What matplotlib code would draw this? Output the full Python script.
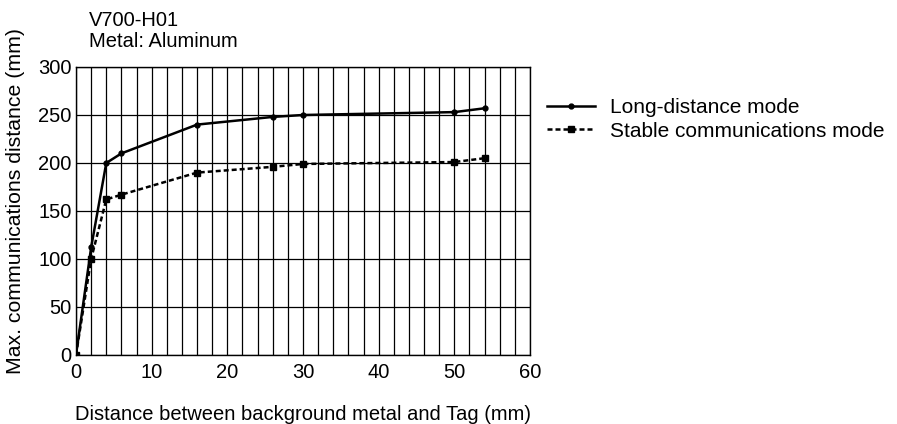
import numpy as np
import matplotlib.pyplot as plt

plt.rcParams['font.family'] = ['Liberation Sans', 'DejaVu Sans']

# distance between background metal and tag (mm)
dist = [0, 2, 4, 6, 16, 26, 30, 50, 54]
long_mode = [0, 112, 200, 210, 240, 248, 250, 253, 257]
stable_mode = [0, 100, 162, 167, 190, 196, 199, 201, 205]

fs = 14.5

fig = plt.figure(figsize=(8.97, 4.24), dpi=100)
ax = fig.add_axes([76 / 897, 1 - 355 / 424, (530 - 76) / 897, (355 - 67) / 424])

ax.plot(dist, long_mode, color='black', lw=1.8, marker='o', ms=3.5,
        label='Long-distance mode')
ax.plot(dist, stable_mode, color='black', lw=1.8, ls=(0, (2, 1.2)), marker='s', ms=4,
        label='Stable communications mode')

ax.set_xlim(0, 60)
ax.set_ylim(0, 300)
ax.set_xticks(np.arange(0, 61, 10))
ax.set_yticks(np.arange(0, 301, 50))
ax.set_xticks(np.arange(0, 61, 2), minor=True)
ax.grid(True, which='major', color='black', lw=0.9)
ax.grid(True, which='minor', axis='x', color='black', lw=0.9)
ax.tick_params(axis='x', which='both', length=0, labelsize=fs, pad=6)
ax.tick_params(axis='y', which='both', length=0, labelsize=fs, pad=3)
for s in ax.spines.values():
    s.set_linewidth(1.0)

ax.set_xlabel('Distance between background metal and Tag (mm)', fontsize=fs, labelpad=16)
ax.set_ylabel('Max. communications distance (mm)', fontsize=15.3)
ax.yaxis.set_label_coords(-0.112, 0.535)

fig.text(89 / 897, 1 - 31 / 424, 'V700-H01\nMetal: Aluminum', fontsize=fs,
         ha='left', va='center', linespacing=1.1)

ax.legend(loc='upper left', bbox_to_anchor=(1.02, 0.92), frameon=False, fontsize=15,
          handlelength=2.3, handletextpad=0.7, borderaxespad=0, labelspacing=0.2)

fig.savefig('out.png', dpi=100)
